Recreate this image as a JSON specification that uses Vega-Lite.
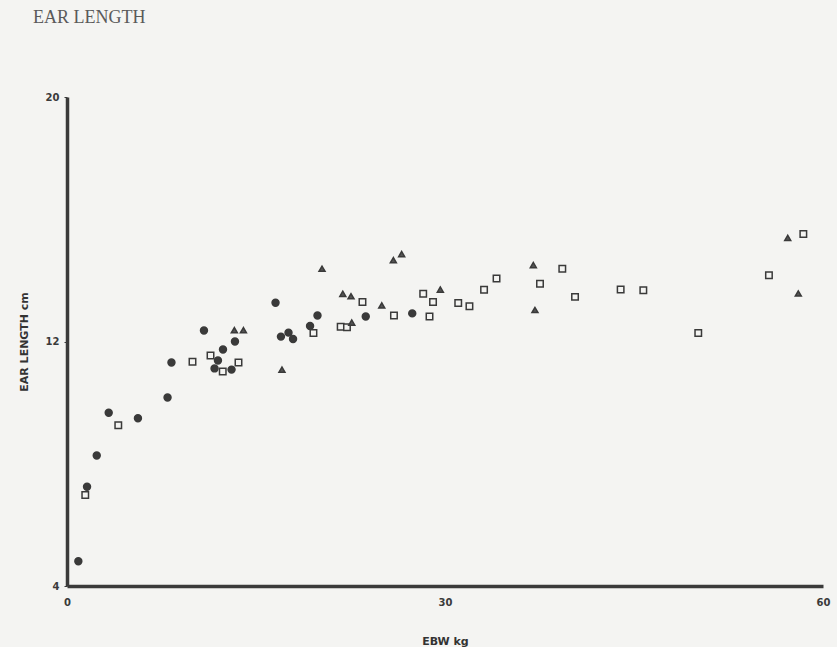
{
  "$schema": "https://vega.github.io/schema/vega-lite/v6.json",
  "width": 756,
  "height": 489,
  "autosize": {"type": "none"},
  "padding": {"left": 67, "top": 97, "right": 14, "bottom": 61},
  "background": "#f4f4f2",
  "title": {
    "text": "EAR LENGTH",
    "anchor": "start",
    "frame": "group",
    "dx": -34,
    "offset": 65,
    "font": "Liberation Serif",
    "fontSize": 18,
    "fontWeight": "normal",
    "color": "#5a5a5a"
  },
  "config": {
    "view": {"stroke": null},
    "axis": {
      "grid": false,
      "domainColor": "#3a3a3a",
      "domainWidth": 3.5,
      "tickColor": "#3a3a3a",
      "labelFont": "DejaVu Sans",
      "labelFontWeight": "bold",
      "labelFontSize": 10,
      "labelColor": "#3a3a3a",
      "titleFont": "DejaVu Sans",
      "titleFontWeight": "bold",
      "titleFontSize": 11,
      "titleColor": "#333333"
    }
  },
  "data": {
    "values": [
      {"g": "circle", "ebw": 0.90, "ear": 4.81},
      {"g": "circle", "ebw": 1.59, "ear": 7.25},
      {"g": "circle", "ebw": 2.36, "ear": 8.27},
      {"g": "circle", "ebw": 3.31, "ear": 9.67},
      {"g": "circle", "ebw": 5.63, "ear": 9.49},
      {"g": "circle", "ebw": 7.98, "ear": 10.17},
      {"g": "circle", "ebw": 8.29, "ear": 11.31},
      {"g": "circle", "ebw": 10.87, "ear": 12.36},
      {"g": "circle", "ebw": 11.98, "ear": 11.38},
      {"g": "circle", "ebw": 11.71, "ear": 11.12},
      {"g": "circle", "ebw": 12.38, "ear": 11.74},
      {"g": "circle", "ebw": 13.06, "ear": 11.08},
      {"g": "circle", "ebw": 13.33, "ear": 12.0},
      {"g": "circle", "ebw": 16.55, "ear": 13.27},
      {"g": "circle", "ebw": 16.98, "ear": 12.16},
      {"g": "circle", "ebw": 17.58, "ear": 12.29},
      {"g": "circle", "ebw": 17.94, "ear": 12.08},
      {"g": "circle", "ebw": 19.29, "ear": 12.51},
      {"g": "circle", "ebw": 19.88, "ear": 12.85},
      {"g": "circle", "ebw": 23.71, "ear": 12.82},
      {"g": "circle", "ebw": 27.40, "ear": 12.92},
      {"g": "square", "ebw": 1.45, "ear": 6.98},
      {"g": "square", "ebw": 4.07, "ear": 9.26},
      {"g": "square", "ebw": 9.96, "ear": 11.34},
      {"g": "square", "ebw": 11.39, "ear": 11.54},
      {"g": "square", "ebw": 12.36, "ear": 11.02},
      {"g": "square", "ebw": 13.61, "ear": 11.31},
      {"g": "square", "ebw": 19.56, "ear": 12.28},
      {"g": "square", "ebw": 21.72, "ear": 12.48},
      {"g": "square", "ebw": 22.22, "ear": 12.47},
      {"g": "square", "ebw": 23.45, "ear": 13.29},
      {"g": "square", "ebw": 25.95, "ear": 12.85},
      {"g": "square", "ebw": 28.27, "ear": 13.56},
      {"g": "square", "ebw": 29.05, "ear": 13.29},
      {"g": "square", "ebw": 28.77, "ear": 12.82},
      {"g": "square", "ebw": 31.05, "ear": 13.26},
      {"g": "square", "ebw": 31.94, "ear": 13.15},
      {"g": "square", "ebw": 33.10, "ear": 13.69},
      {"g": "square", "ebw": 34.09, "ear": 14.06},
      {"g": "square", "ebw": 37.54, "ear": 13.89},
      {"g": "square", "ebw": 39.31, "ear": 14.38},
      {"g": "square", "ebw": 40.32, "ear": 13.46},
      {"g": "square", "ebw": 43.94, "ear": 13.70},
      {"g": "square", "ebw": 45.74, "ear": 13.68},
      {"g": "square", "ebw": 50.10, "ear": 12.28},
      {"g": "square", "ebw": 55.71, "ear": 14.17},
      {"g": "square", "ebw": 58.44, "ear": 15.52},
      {"g": "triangle", "ebw": 13.28, "ear": 12.37},
      {"g": "triangle", "ebw": 14.00, "ear": 12.37},
      {"g": "triangle", "ebw": 17.06, "ear": 11.08},
      {"g": "triangle", "ebw": 20.24, "ear": 14.38},
      {"g": "triangle", "ebw": 21.89, "ear": 13.56},
      {"g": "triangle", "ebw": 22.54, "ear": 13.48},
      {"g": "triangle", "ebw": 22.60, "ear": 12.62},
      {"g": "triangle", "ebw": 24.98, "ear": 13.18},
      {"g": "triangle", "ebw": 25.90, "ear": 14.66},
      {"g": "triangle", "ebw": 26.56, "ear": 14.86},
      {"g": "triangle", "ebw": 29.63, "ear": 13.70},
      {"g": "triangle", "ebw": 37.01, "ear": 14.50},
      {"g": "triangle", "ebw": 37.14, "ear": 13.03},
      {"g": "triangle", "ebw": 57.20, "ear": 15.39},
      {"g": "triangle", "ebw": 58.04, "ear": 13.57}
    ]
  },
  "mark": {"type": "point", "filled": true, "opacity": 1, "stroke": "#3a3a3a", "strokeWidth": 1.5},
  "encoding": {
    "x": {
      "field": "ebw",
      "type": "quantitative",
      "scale": {"domain": [0, 60], "nice": false, "zero": false},
      "axis": {"values": [0, 30, 60], "title": "EBW kg", "tickSize": 0, "labelPadding": 11, "titlePadding": 28, "labelFlush": false}
    },
    "y": {
      "field": "ear",
      "type": "quantitative",
      "scale": {"domain": [4, 20], "nice": false, "zero": false},
      "axis": {"values": [4, 12, 20], "title": "EAR LENGTH cm", "tickSize": 3, "labelPadding": 5, "titlePadding": 16, "labelFlush": false}
    },
    "shape": {
      "field": "g",
      "type": "nominal",
      "scale": {"domain": ["circle", "square", "triangle"], "range": ["circle", "square", "triangle-up"]},
      "legend": null
    },
    "fill": {
      "field": "g",
      "type": "nominal",
      "scale": {"domain": ["circle", "square", "triangle"], "range": ["#3a3a3a", "#f4f4f2", "#555555"]},
      "legend": null
    },
    "size": {
      "field": "g",
      "type": "nominal",
      "scale": {"domain": ["circle", "square", "triangle"], "range": [48, 36, 38]},
      "legend": null
    }
  }
}
